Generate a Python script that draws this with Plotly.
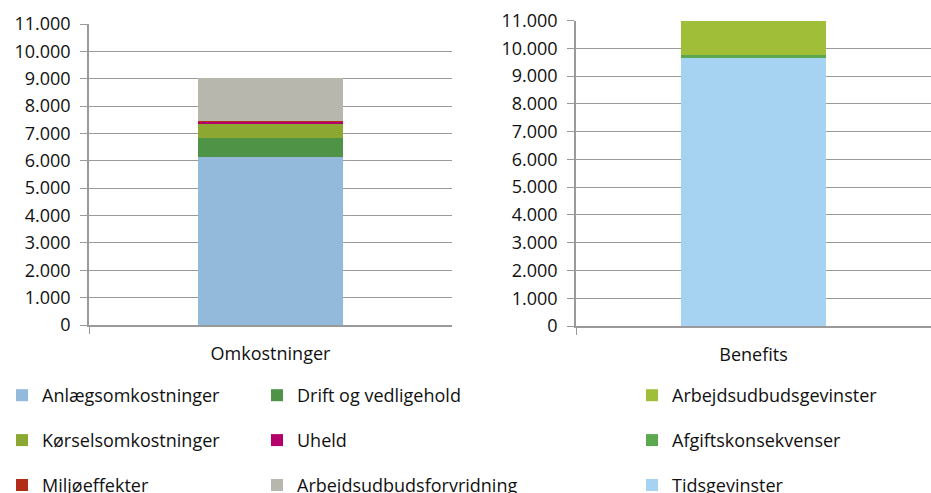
import plotly.graph_objects as go

# ---- data ----
cost_category = ["Omkostninger"]
benefit_category = ["Benefits"]

cost_names = ["Anlægsomkostninger", "Drift og vedligehold", "Kørselsomkostninger",
              "Uheld", "Miljøeffekter", "Arbejdsudbudsforvridning"]
cost_values = [6140, 690, 530, 70, 10, 1570]
cost_colors = ["#93B9DB", "#4F9347", "#8CA832", "#B3006B", "#B22D18", "#B7B7AE"]
cost_legend = ["legend", "legend2", "legend", "legend2", "legend", "legend2"]

benefit_names = ["Tidsgevinster", "Afgiftskonsekvenser", "Arbejdsudbudsgevinster"]
benefit_values = [9680, 70, 1250]
benefit_colors = ["#A7D3F3", "#5BA84F", "#A0BE37"]
benefit_rank = [3, 2, 1]

y_tickvals = list(range(0, 11001, 1000))

FONT = "Open Sans"
GRID = "#9A9A9A"

fig = go.Figure()

for i, (n, v, c, lg) in enumerate(zip(cost_names, cost_values, cost_colors, cost_legend)):
    fig.add_trace(go.Bar(x=cost_category, y=[v], name=n, marker=dict(color=c, line=dict(width=0)),
                         width=0.4, xaxis="x", yaxis="y", legend=lg, legendgroup=f"c{i}",
                         legendrank=i + 1))

for i, (n, v, c, r) in enumerate(zip(benefit_names, benefit_values, benefit_colors, benefit_rank)):
    fig.add_trace(go.Bar(x=benefit_category, y=[v], name=n, marker=dict(color=c, line=dict(width=0)),
                         width=0.41, xaxis="x2", yaxis="y2", legend="legend3", legendgroup=f"b{i}",
                         legendrank=r))

W, H = 931, 493

def yaxis(dom, anchor):
    return dict(domain=dom, anchor=anchor, range=[0, 11000], tickvals=y_tickvals,
                tickformat=",d", showgrid=True, gridcolor=GRID, gridwidth=1.3,
                showline=True, linecolor=GRID, linewidth=1.5, ticks="outside",
                ticklen=7, tickcolor=GRID, tickwidth=1.3, zeroline=False,
                ticklabelstandoff=6,
                tickfont=dict(family=FONT, size=18, color="#111111"), fixedrange=True)

def xaxis(dom, anchor):
    return dict(domain=dom, anchor=anchor, type="category", range=[-0.5, 0.5],
                showline=True, linecolor=GRID, linewidth=1.5, ticks="outside",
                tickson="boundaries", ticklen=7, tickcolor=GRID, tickwidth=1.3,
                ticklabelstandoff=12, fixedrange=True,
                showgrid=False, tickfont=dict(family=FONT, size=18, color="#111111"))

legend_common = dict(orientation="v", xanchor="left", yanchor="top",
                     font=dict(family=FONT, size=18, color="#111111"),
                     bgcolor="rgba(0,0,0,0)", tracegroupgap=18.5, itemclick=False,
                     traceorder="grouped")

fig.update_layout(
    width=W, height=H, margin=dict(l=0, r=0, t=0, b=0, autoexpand=False),
    paper_bgcolor="white", plot_bgcolor="white",
    barmode="stack", separators=",.", hovermode=False,
    xaxis=xaxis([89 / W, 452 / W], "y"),
    yaxis=yaxis([1 - 325 / H, 1 - 24 / H], "x"),
    xaxis2=xaxis([576 / W, 1.0], "y2"),
    yaxis2=yaxis([1 - 326 / H, 1 - 20.5 / H], "x2"),
    legend=dict(x=2 / W, y=1 - 377 / H, **legend_common),
    legend2=dict(x=257 / W, y=1 - 377 / H, **legend_common),
    legend3=dict(x=632 / W, y=1 - 377 / H, **legend_common),
    showlegend=True,
)

fig.write_html("out.html", config={"displayModeBar": False},
               post_script="document.body.style.margin='0';document.body.style.overflow='hidden';window.dispatchEvent(new Event('resize'));")
